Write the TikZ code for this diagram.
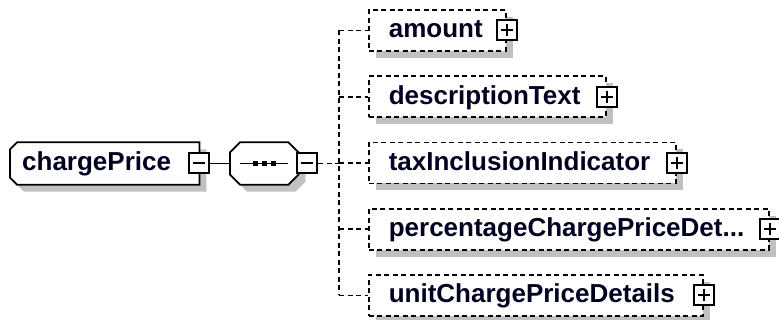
\documentclass[tikz,border=0pt]{standalone}
\usepackage{fontspec}
\setmainfont{Liberation Sans}
\usetikzlibrary{shadows,backgrounds}
\definecolor{shgray}{RGB}{192,192,192}
\definecolor{txt}{RGB}{0,0,32}
\newcommand\mychamf[3]{([shift={(#2+#3,#3)}]#1.north west) -- ([shift={(#3,#3)}]#1.north east) -- ([shift={(#3,#3)}]#1.south east) -- ([shift={(#2+#3,#3)}]#1.south west) -- ([shift={(#3,#3-#2)}]#1.south west) -- ([shift={(#3,#3+#2)}]#1.north west) -- cycle}
\newcommand\myocta[3]{([shift={(#2+#3,#3)}]#1.north west) -- ([shift={(#3-#2,#3)}]#1.north east) -- ([shift={(#3,#3+#2)}]#1.north east) -- ([shift={(#3,#3-#2)}]#1.south east) -- ([shift={(#3-#2,#3)}]#1.south east) -- ([shift={(#2+#3,#3)}]#1.south west) -- ([shift={(#3,#3-#2)}]#1.south west) -- ([shift={(#3,#3+#2)}]#1.north west) -- cycle}
\begin{document}
\begin{tikzpicture}[x=1pt,y=-1pt,
  lbl/.style={font=\fontsize{26}{26}\selectfont\bfseries, text=txt, inner xsep=0pt, inner ysep=0pt, align=left, text height=19pt, text depth=4pt, minimum height=41pt, anchor=west},
  child/.style={lbl, draw, dash pattern=on 5pt off 3.5pt, line width=1.6pt, fill=white, general shadow={fill=shgray, shadow xshift=7pt, shadow yshift=-7pt}},
  pmbox/.style={draw, solid, line width=2pt, fill=white, minimum size=20pt, inner sep=0pt},
  minus/.style={pmbox,
    path picture={\draw[line width=2pt] ([xshift=-6pt]path picture bounding box.center) -- ([xshift=6pt]path picture bounding box.center);}},
  plus/.style={pmbox,
    path picture={\draw[line width=2pt] ([xshift=-6pt]path picture bounding box.center) -- ([xshift=6pt]path picture bounding box.center) ([yshift=-6pt]path picture bounding box.center) -- ([yshift=6pt]path picture bounding box.center);}},
  conn/.style={line width=1.6pt, dash pattern=on 5pt off 3.5pt},
  outline/.style={fill=white, draw, line width=1.8pt},
]
\path[use as bounding box] (0,0) rectangle (779,320);

% root element
\node[lbl, text width=189pt, minimum height=42pt] (cp) at (10,163.5) {\hspace*{12pt}chargePrice};
% sequence compositor
\node[lbl, minimum width=68pt, minimum height=42pt] (seq) at (230,163.5) {};
\begin{pgfonlayer}{background}
  \fill[white] (0,0) rectangle (779,320);
  \fill[shgray] \mychamf{cp}{7}{7};
  \path[outline] \mychamf{cp}{7}{0};
  \fill[shgray] \myocta{seq}{10}{7};
  \path[outline] \myocta{seq}{10}{0};
\end{pgfonlayer}
\draw[line width=1.8pt] ([xshift=10pt]seq.west) -- ([xshift=-10pt]seq.east);
\foreach \dx in {-9,0,9}
  \fill ([shift={(\dx-2.5,-2.5)}]seq.center) rectangle ++(5,5);

\node[minus] (cb) at (cp.east) {};
\node[minus] (sb) at ([xshift=9pt]seq.east) {};

% children
\node[child, text width=137pt] (c1) at (368,30.5) {\hspace*{20pt}amount};
\node[child, text width=237pt] (c2) at (368,96.75) {\hspace*{20pt}descriptionText};
\node[child, text width=307pt] (c3) at (368,163) {\hspace*{20pt}taxInclusionIndicator};
\node[child, text width=400pt] (c4) at (368,229.25) {\hspace*{20pt}percentageChargePriceDet...};
\node[child, text width=334pt] (c5) at (368,295.5) {\hspace*{20pt}unitChargePriceDetails};
\foreach \i in {1,...,5} \node[plus] (p\i) at (c\i.east) {};

% connectors
\coordinate (jn) at (339,163.5);
\draw[line width=1.8pt] (cb) -- (seq);
\draw[conn] (sb) -- (jn);
\draw[conn] (jn |- c1.west) -- (jn |- c5.west);
\foreach \i in {1,...,5} \draw[conn] (jn |- c\i.west) -- (c\i.west);
\end{tikzpicture}
\end{document}
